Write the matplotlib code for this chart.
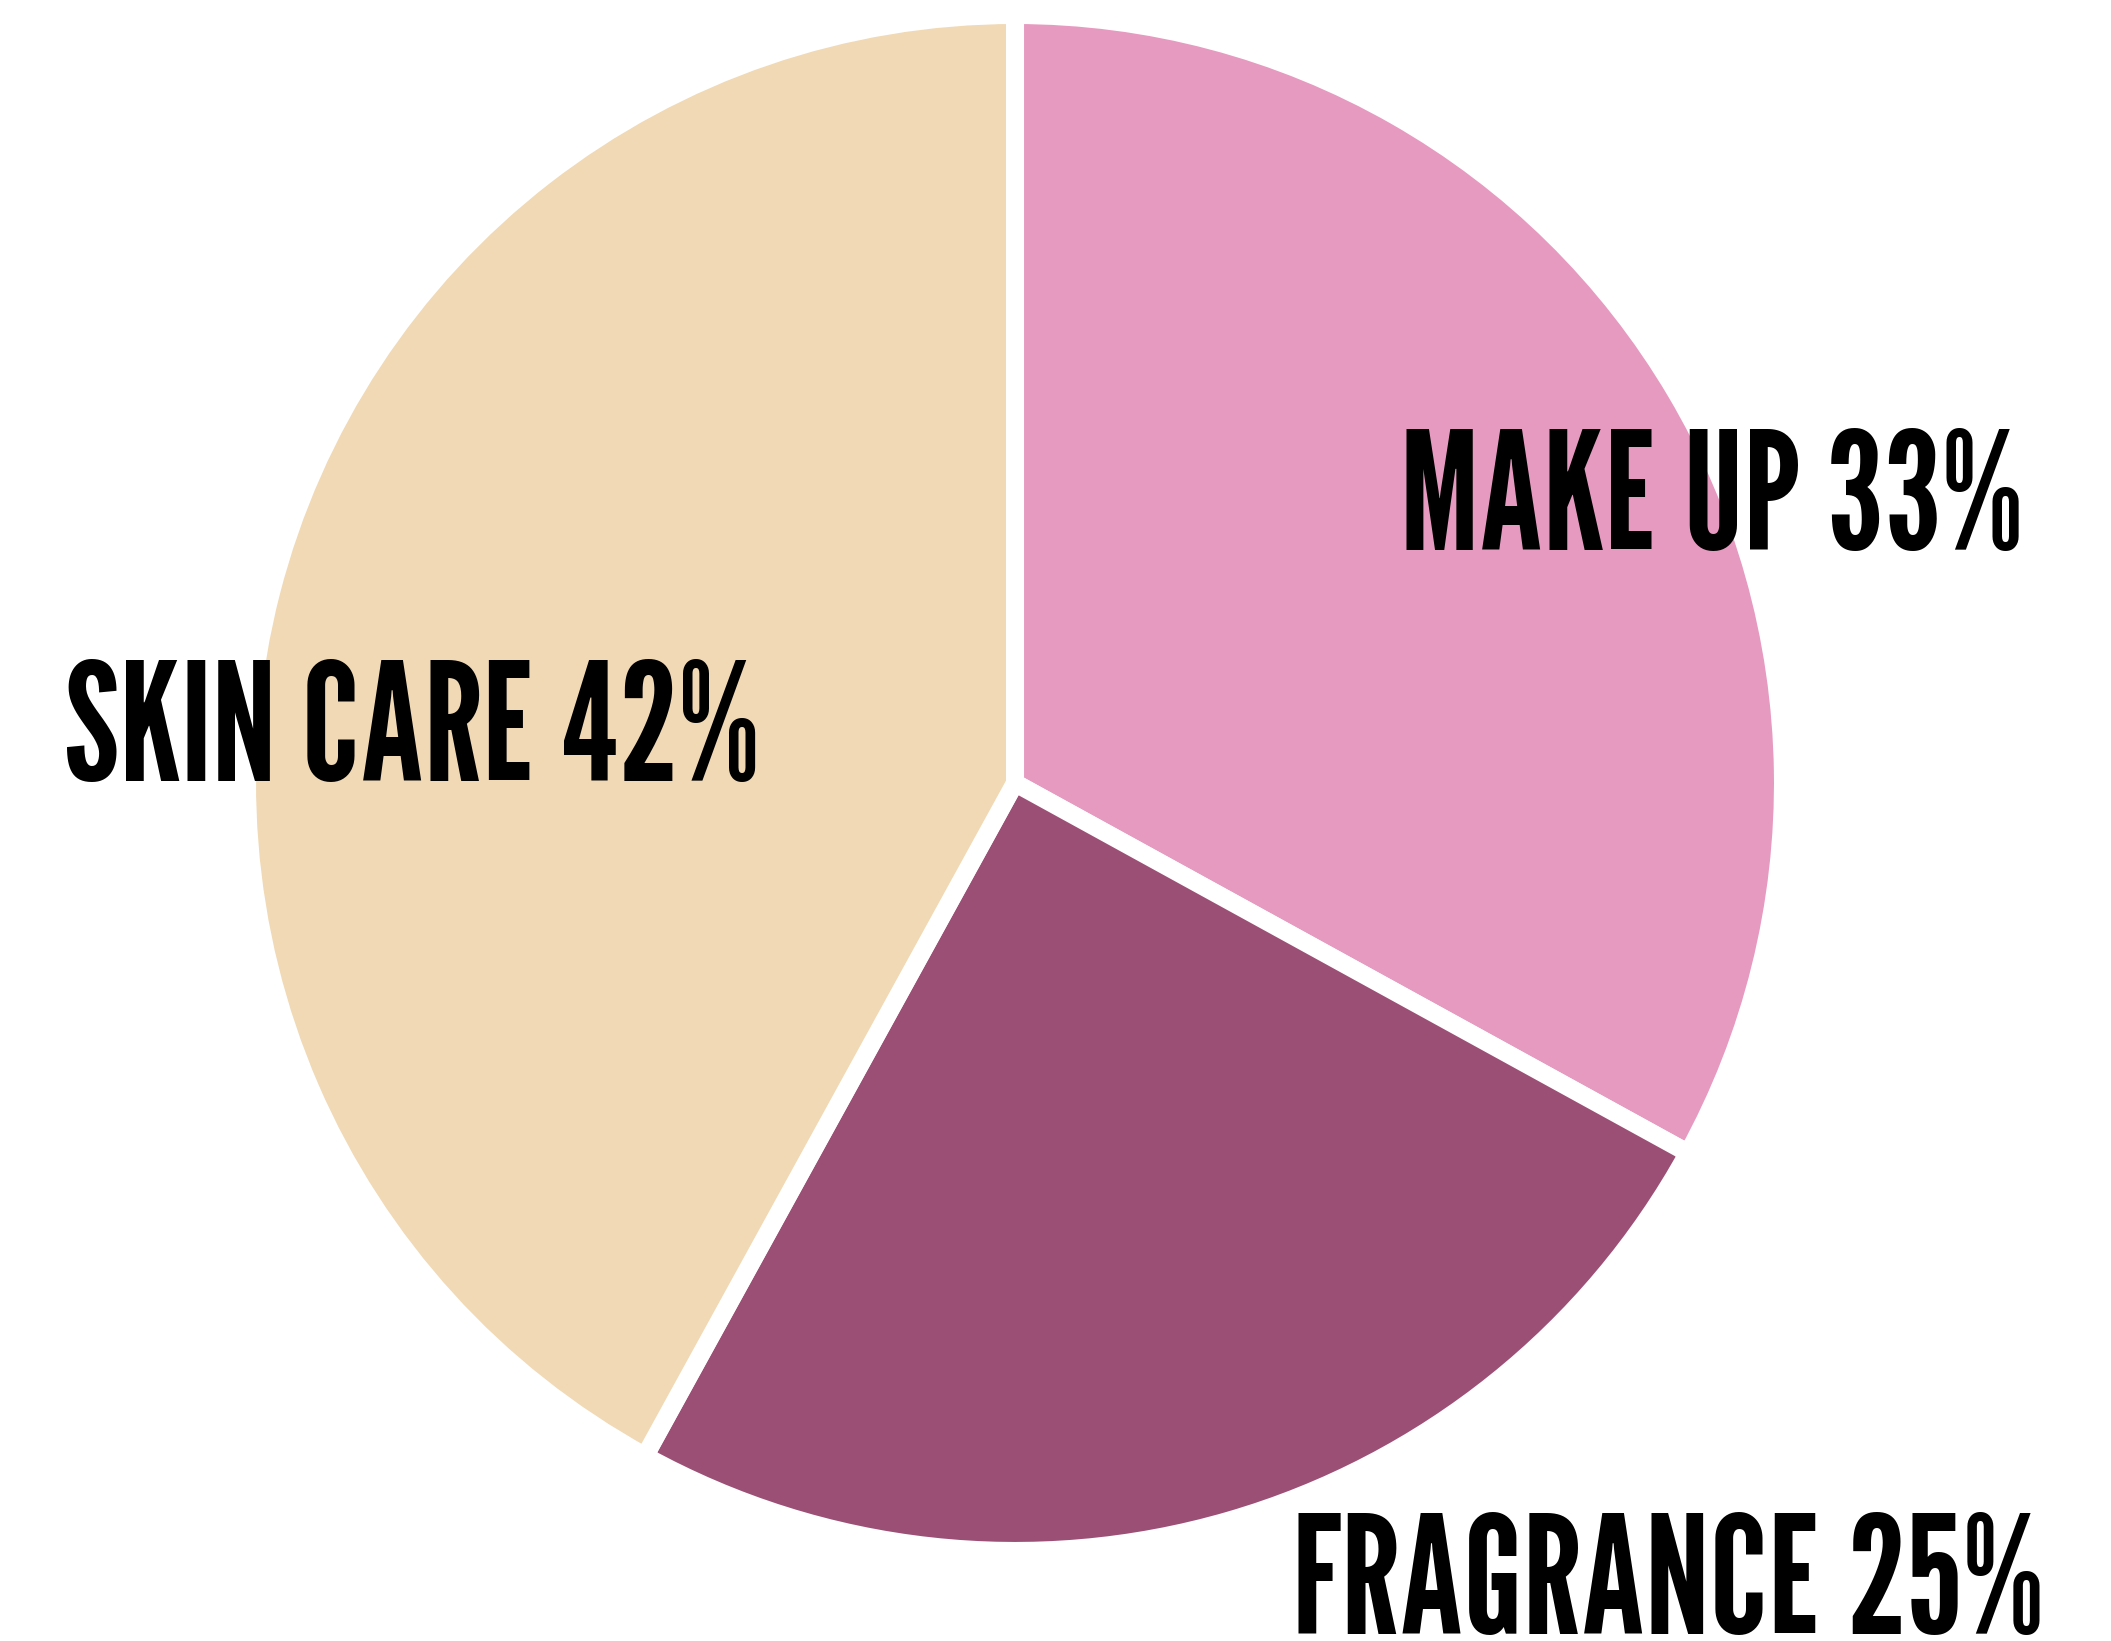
import matplotlib
matplotlib.use("Agg")
import matplotlib.pyplot as plt

categories = ["MAKE UP", "FRAGRANCE", "SKIN CARE"]
shares = [33, 25, 42]
colors = ["#E69AC0", "#9C4F75", "#F0D9B4"]

W, H = 2111, 1641
fig = plt.figure(figsize=(W / 100, H / 100), dpi=100)
ax = fig.add_axes([0, 0, 1, 1])

ax.pie(shares, colors=colors, startangle=90, counterclock=False,
       center=(1015, H - 783), radius=768,
       wedgeprops=dict(edgecolor="white", linewidth=13))
ax.set_xlim(0, W)
ax.set_ylim(0, H)
ax.set_aspect("auto")
ax.axis("off")

font = ["League Gothic", "Bebas Neue", "DejaVu Sans"]
label_pos = {"MAKE UP": (1400, H - 550), "FRAGRANCE": (1292, H - 1634), "SKIN CARE": (64, H - 781)}
for cat, val in zip(categories, shares):
    x, y = label_pos[cat]
    ax.text(x, y, f"{cat} {val}%", ha="left", va="baseline", fontsize=118,
            family=font, color="black")

fig.savefig("out.png", dpi=100, facecolor="white")
